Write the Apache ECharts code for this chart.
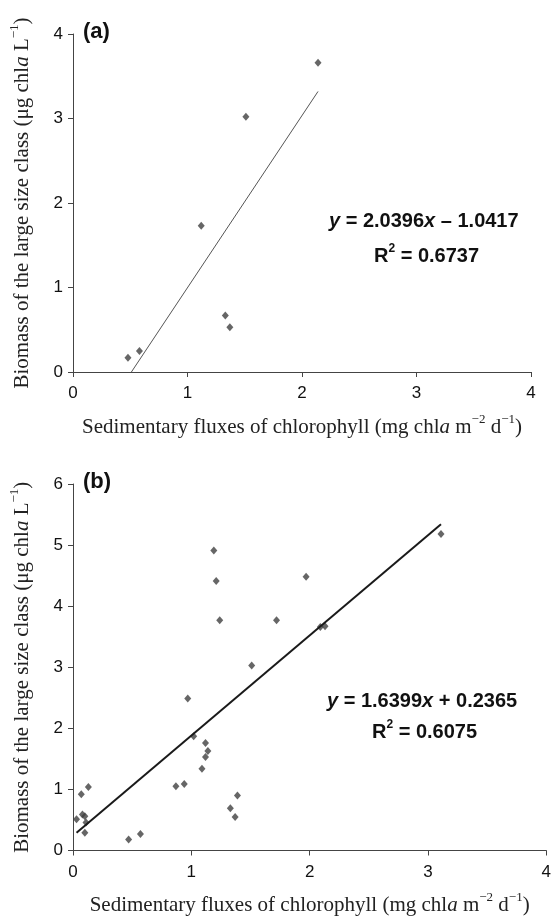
<!DOCTYPE html>
<html>
<head>
<meta charset="utf-8">
<script src="https://cdn.jsdelivr.net/npm/echarts@6/dist/echarts.min.js"></script>
<style>html,body{margin:0;padding:0;background:#fff}#c{width:554px;height:917px}</style>
</head>
<body>
<div id="c"></div>
<script>
// Panel (a) data
const pointsA = [[0.48,0.17],[0.58,0.25],[1.12,1.73],[1.33,0.67],[1.37,0.53],[1.51,3.02],[2.14,3.66]];
const trendA = [[0.51,0],[2.14,3.32]];
// Panel (b) data
const pointsB = [[0.03,0.51],[0.07,0.92],[0.08,0.59],[0.10,0.56],[0.10,0.29],[0.11,0.46],[0.13,1.04],
  [0.47,0.18],[0.57,0.27],[0.87,1.05],[0.94,1.09],[0.97,2.49],[1.02,1.87],[1.09,1.34],[1.12,1.53],
  [1.12,1.76],[1.14,1.63],[1.19,4.91],[1.21,4.41],[1.24,3.77],[1.33,0.69],[1.37,0.55],[1.39,0.90],
  [1.51,3.03],[1.72,3.77],[1.97,4.48],[2.09,3.66],[2.13,3.67],[3.11,5.18]];
const trendB = [[0.03,0.29],[3.11,5.34]];
const xMax = 4, yMaxA = 4, yMaxB = 6;

const serif = "'Liberation Serif', 'Times New Roman', serif";
const sans = "'Liberation Sans', Arial, sans-serif";
const axisCol = '#444';

const titleRich = {
  t: {fontFamily: serif, fontSize: 21, color: '#222', lineHeight: 28},
  i: {fontFamily: serif, fontSize: 21, fontStyle: 'italic', color: '#222', lineHeight: 28},
  sup: {fontFamily: serif, fontSize: 13, color: '#222', verticalAlign: 'top', lineHeight: 13}
};
const xName = '{t|Sedimentary fluxes of chlorophyll (mg chl}{i|a}{t| m}{sup|\u22122}{t| d}{sup|\u22121}{t|)}';
const yName = '{t|Biomass of the large size class (\u03bcg chl}{i|a}{t| L}{sup|\u22121}{t|)}';

function xAxis(idx){
  return {gridIndex: idx, type:'value', min:0, max:xMax, interval:1,
    axisLine:{show:true, onZero:false, lineStyle:{color:axisCol, width:1}},
    axisTick:{show:true, length:5, lineStyle:{color:axisCol}},
    splitLine:{show:false},
    axisLabel:{color:'#111', fontFamily:sans, fontSize:17, margin:13},
    name: xName, nameLocation:'middle', nameGap: 41,
    nameTextStyle:{fontFamily:serif, fontSize:21, color:'#222', rich:titleRich}
  };
}
function yAxis(idx, max){
  return {gridIndex: idx, type:'value', min:0, max:max, interval:1,
    axisLine:{show:true, onZero:false, lineStyle:{color:axisCol, width:1}},
    axisTick:{show:true, length:5, lineStyle:{color:axisCol}},
    splitLine:{show:false},
    axisLabel:{color:'#111', fontFamily:sans, fontSize:17, margin:10},
    name: yName, nameLocation:'middle', nameGap: 37, nameRotate: 90,
    nameTextStyle:{fontFamily:serif, fontSize:21, color:'#222', rich:titleRich}
  };
}
const eqRich = {
  t: {fontFamily: sans, fontSize: 20, fontWeight: 'bold', color:'#111', lineHeight: 26},
  bi: {fontFamily: sans, fontSize: 20, fontWeight: 'bold', fontStyle: 'italic', color:'#111', lineHeight: 26},
  sup: {fontFamily: sans, fontSize: 12, fontWeight: 'bold', color:'#111', verticalAlign:'top', lineHeight: 12}
};
const eqFont = "bold 20px 'Liberation Sans', Arial, sans-serif";

const chart = echarts.init(document.getElementById('c'), null, {renderer:'canvas'});
chart.setOption({
  animation:false,
  backgroundColor:'#fff',
  grid:[
    {left:72, top:34, right:23, height:338},
    {left:72, top:484, right:6, height:374}
  ],
  xAxis:[xAxis(0), xAxis(1)],
  yAxis:[yAxis(0, yMaxA), yAxis(1, yMaxB)],
  series:[
    {type:'line', xAxisIndex:0, yAxisIndex:0, data:trendA, symbol:'none', lineStyle:{color:'#555', width:1}},
    {type:'scatter', xAxisIndex:0, yAxisIndex:0, data:pointsA, symbol:'diamond', symbolSize:[7,8], itemStyle:{color:'#404040'}},
    {type:'line', xAxisIndex:1, yAxisIndex:1, data:trendB, symbol:'none', lineStyle:{color:'#1a1a1a', width:2}},
    {type:'scatter', xAxisIndex:1, yAxisIndex:1, data:pointsB, symbol:'diamond', symbolSize:[7,8], itemStyle:{color:'#404040'}}
  ],
  graphic:[
    {type:'text', left:83, top:21, style:{text:'(a)', font:"bold 22px 'Liberation Sans', Arial, sans-serif", fill:'#111'}},
    {type:'text', left:83, top:471, style:{text:'(b)', font:"bold 22px 'Liberation Sans', Arial, sans-serif", fill:'#111'}},
    {type:'text', left:329, top:211, style:{text:'{bi|y}{t| = 2.0396}{bi|x}{t| \u2013 1.0417}', font:eqFont, fill:'#111', rich:eqRich}},
    {type:'text', left:374, top:243, style:{text:'{t|R}{sup|2}{t| = 0.6737}', font:eqFont, fill:'#111', rich:eqRich}},
    {type:'text', left:327, top:691, style:{text:'{bi|y}{t| = 1.6399}{bi|x}{t| + 0.2365}', font:eqFont, fill:'#111', rich:eqRich}},
    {type:'text', left:372, top:719, style:{text:'{t|R}{sup|2}{t| = 0.6075}', font:eqFont, fill:'#111', rich:eqRich}}
  ]
});
</script>
</body>
</html>
